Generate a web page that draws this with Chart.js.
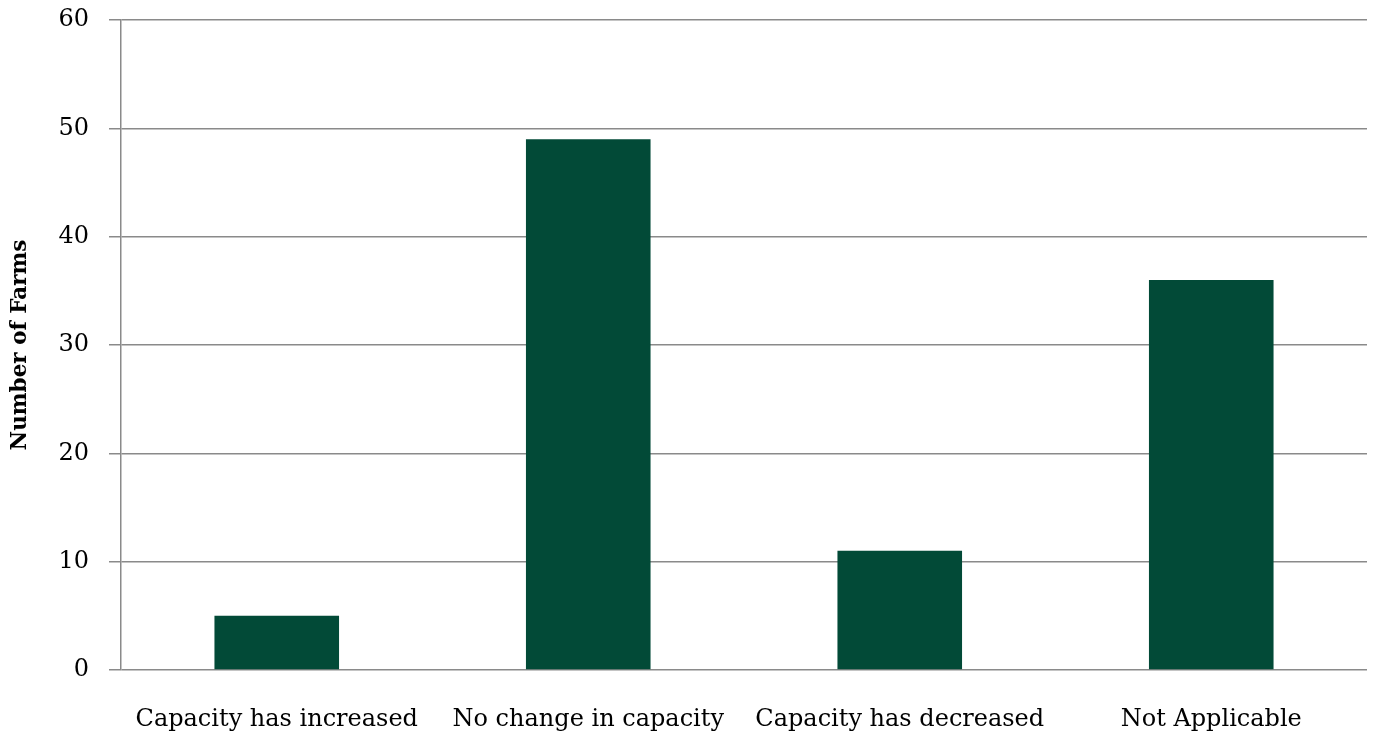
<!DOCTYPE html>
<html>
<head>
<meta charset="utf-8">
<script src="https://cdn.jsdelivr.net/npm/chart.js@4"></script>
<style>
  html, body { margin: 0; padding: 0; background: #fff; }
  #wrap { width: 1375px; height: 738px; }
</style>
</head>
<body>
<div id="wrap"><canvas id="farmChart" width="1375" height="738"></canvas></div>
<script>
const categories = ['Capacity has increased', 'No change in capacity', 'Capacity has decreased', 'Not Applicable'];
const farmCounts = [5, 49, 11, 36];
const yTicks = [0, 10, 20, 30, 40, 50, 60];

const barColor = '#024a37';
const gridColor = '#8a8a8a';
const fontFamily = '"DejaVu Serif", "Liberation Serif", serif';

Chart.defaults.font.family = fontFamily;
Chart.defaults.color = '#000';

const chart = new Chart(document.getElementById('farmChart'), {
  type: 'bar',
  data: {
    labels: categories,
    datasets: [{
      label: 'Number of Farms',
      data: farmCounts,
      backgroundColor: barColor,
      borderWidth: 0,
      barPercentage: 0.4,
      categoryPercentage: 1,
    }],
  },
  options: {
    responsive: false,
    animation: false,
    layout: { padding: { top: 20, right: 8, left: 0, bottom: 0 } },
    plugins: {
      legend: { display: false },
      tooltip: { enabled: false },
    },
    scales: {
      x: {
        grid: { display: false, drawTicks: false },
        border: { display: false },
        ticks: {
          font: { size: 24 },
          color: '#000',
          padding: 35,
          maxRotation: 0,
        },
        afterFit(scale) {
          scale.height = 68;
          scale.paddingLeft = 0;
          scale.paddingRight = 0;
        },
      },
      y: {
        min: 0,
        max: 60,
        afterBuildTicks(scale) { scale.ticks = yTicks.map((v) => ({ value: v })); },
        grid: {
          color: gridColor,
          lineWidth: 1.5,
          tickLength: 12,
          drawTicks: true,
        },
        border: { display: true, color: gridColor, width: 1.5 },
        ticks: {
          font: { size: 24 },
          color: '#000',
          padding: 20,
        },
        title: {
          display: true,
          text: 'Number of Farms',
          font: { size: 21.5, weight: 'bold' },
          color: '#000',
          padding: { top: 8, bottom: 0 },
        },
        afterFit(scale) {
          scale.width = 121;
          scale.paddingTop = 0;
          scale.paddingBottom = 0;
        },
      },
    },
  },
});
</script>
</body>
</html>
